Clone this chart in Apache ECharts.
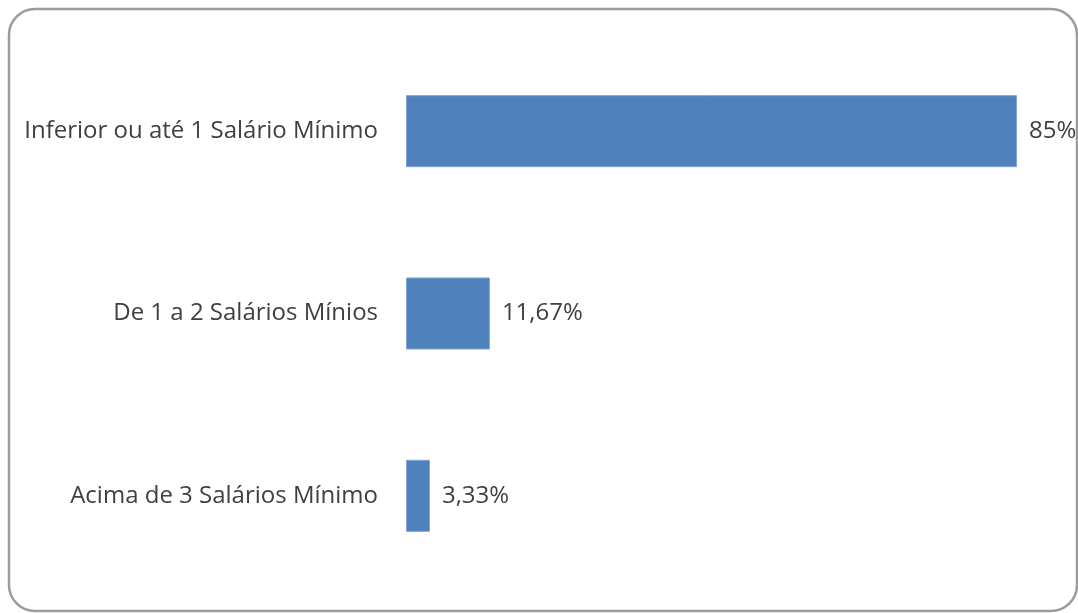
<!DOCTYPE html>
<html>
<head>
<meta charset="utf-8">
<script src="https://cdn.jsdelivr.net/npm/echarts@6/dist/echarts.min.js"></script>
<style>
  html, body { margin: 0; padding: 0; background: #ffffff; }
  #chart { width: 1078px; height: 613px; }
</style>
</head>
<body>
<div id="chart"></div>
<script>
// Faixas de renda (de cima para baixo) e percentuais correspondentes
const categories = [
  'Inferior ou até 1 Salário Mínimo',
  'De 1 a 2 Salários Mínios',
  'Acima de 3 Salários Mínimo'
];
const percentages = [85, 11.67, 3.33];

const chart = echarts.init(document.getElementById('chart'), null, { renderer: 'canvas' });

const textColor = '#404040';
const fontFamily = '"Open Sans", Lato, sans-serif';

chart.setOption({
  backgroundColor: '#ffffff',
  animation: false,
  graphic: [{
    type: 'rect',
    shape: { x: 9, y: 9, width: 1068, height: 602, r: 26 },
    style: { fill: 'none', stroke: '#9c9c9c', lineWidth: 2.5 },
    z: 10
  }],
  grid: { left: 406, right: 61, top: 40, bottom: 26, containLabel: false },
  xAxis: {
    type: 'value',
    min: 0,
    max: 85,
    show: false
  },
  yAxis: {
    type: 'category',
    data: categories,
    inverse: true,
    axisLine: { show: false },
    axisTick: { show: false },
    axisLabel: {
      margin: 28,
      color: textColor,
      fontFamily: fontFamily,
      fontSize: 24
    }
  },
  series: [{
    type: 'bar',
    data: percentages,
    barWidth: 72,
    itemStyle: { color: '#4f81bd', borderColor: '#7ea3d3', borderWidth: 1 },
    label: {
      show: true,
      position: 'right',
      distance: 12,
      color: textColor,
      fontFamily: fontFamily,
      fontSize: 24,
      formatter: p => String(p.value).replace('.', ',') + '%'
    }
  }]
});
</script>
</body>
</html>
